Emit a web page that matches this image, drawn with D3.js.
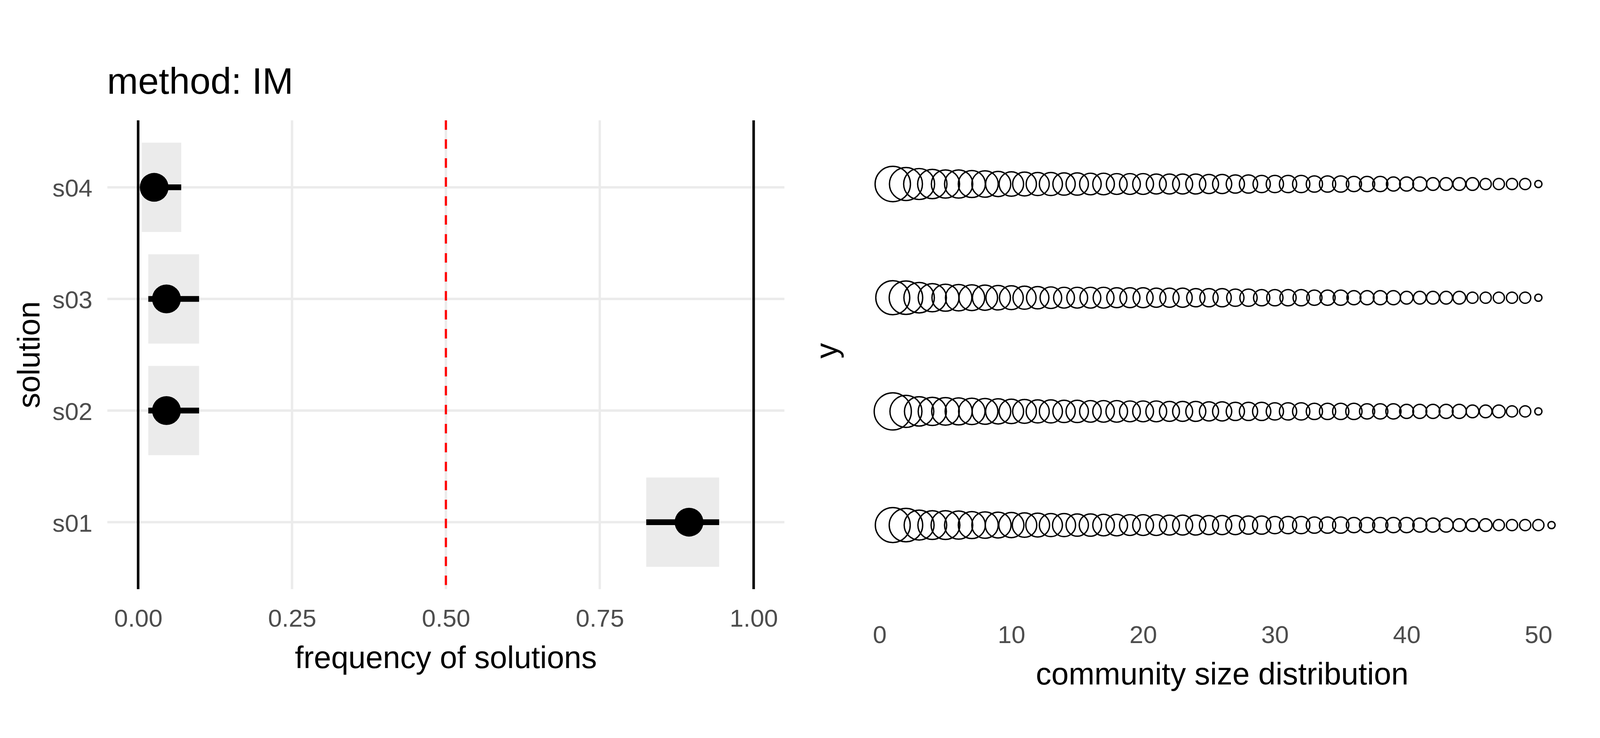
<!DOCTYPE html>
<html>
<head>
<meta charset="utf-8">
<script src="https://cdn.jsdelivr.net/npm/d3@7/dist/d3.min.js"></script>
<style>
  html, body { margin: 0; padding: 0; background: #ffffff; width: 100%; height: 100%; overflow: hidden; }
  svg { display: block; }
  text { font-family: "Liberation Sans", Arial, Helvetica, sans-serif; }
</style>
</head>
<body>
<svg id="chart"></svg>
<script>
// ---------------- data ----------------
// left panel: frequency of solutions
const solutions = ["s04", "s03", "s02", "s01"];
const freqValues = [0.026, 0.046, 0.046, 0.895];
const freqLower = [0.006, 0.0165, 0.0165, 0.8255];
const freqUpper = [0.070, 0.099, 0.099, 0.944];
const freqTicks = [0, 0.25, 0.5, 0.75, 1];
const freqTickLabels = ["0.00", "0.25", "0.50", "0.75", "1.00"];
const boundaryLines = [0, 1];
const thresholdLine = 0.5;

// right panel: community size distribution (sizes sorted per solution row)
const rowY = [4, 3, 2, 1];
const sizesRow4 = [37,32,28,25,23,23,21,20,18,17,16,15,15,14,14,13,13,12,12,12,11,11,11,11,10,10,9,9,8,8,8,8,7,7,7,6,6,6,5,5,5,4,4,4,4,3,3,3,3,1];
const sizesRow3 = [34,33,27,23,21,20,19,18,17,16,15,14,13,12,12,12,12,11,11,11,10,10,10,9,9,9,8,8,7,7,7,7,6,6,6,5,5,5,5,4,4,4,4,4,3,3,3,3,3,1];
const sizesRow2 = [41,30,25,23,22,21,20,19,18,17,16,15,15,14,14,13,13,13,12,12,12,11,11,11,10,10,9,9,9,8,8,8,7,7,7,7,6,6,6,5,5,5,5,5,4,4,4,3,3,1];
const sizesRow1 = [36,33,26,24,24,23,21,20,19,18,17,16,15,15,14,14,13,13,12,12,12,11,11,11,10,10,10,9,9,8,8,8,7,7,7,6,6,6,6,6,5,5,5,4,4,4,3,3,3,3,1];
const sizeRows = [sizesRow4, sizesRow3, sizesRow2, sizesRow1];
const rankTicks = [0, 10, 20, 30, 40, 50];

// ---------------- layout (designed on a 4724 x 1889 canvas, fitted to the window) ----------------
const BW = 4724, BH = 1889;
const W = window.innerWidth || BW, H = window.innerHeight || BH;
const sx = W / BW, sy = H / BH, k = Math.min(sx, sy);
const px = v => v * sx, py = v => v * sy, sz = v => v * k;

const FONT_TICK = sz(73.33), FONT_TITLE = sz(91.67), FONT_PLOT_TITLE = sz(110);
const GRID = "#EBEBEB", TICK_COL = "#4D4D4D";

const svg = d3.select("#chart").attr("width", W).attr("height", H);
svg.append("rect").attr("width", W).attr("height", H).attr("fill", "#ffffff");

// ===== Left panel =====
const L = { left: px(317), right: px(2316), top: py(308), bottom: py(1508) };
const x1 = d3.scaleLinear().domain([-0.05, 1.05]).range([L.left, L.right]);
const y1 = d3.scalePoint().domain(solutions).range([L.top, L.bottom]).padding(0.6);
const band = y1.step() * 0.8;

const gL = svg.append("g");

// grid lines
gL.selectAll("line.vgrid").data(freqTicks).enter().append("line")
  .attr("x1", d => x1(d)).attr("x2", d => x1(d))
  .attr("y1", L.top).attr("y2", L.bottom)
  .attr("stroke", GRID).attr("stroke-width", sz(7));
gL.selectAll("line.hgrid").data(solutions).enter().append("line")
  .attr("x1", L.left).attr("x2", L.right)
  .attr("y1", d => y1(d)).attr("y2", d => y1(d))
  .attr("stroke", GRID).attr("stroke-width", sz(7));

// interval tiles
gL.selectAll("rect.tile").data(solutions).enter().append("rect")
  .attr("x", (d, i) => x1(freqLower[i]))
  .attr("width", (d, i) => x1(freqUpper[i]) - x1(freqLower[i]))
  .attr("y", d => y1(d) - band / 2)
  .attr("height", band)
  .attr("fill", GRID);

// boundary lines at 0 and 1
gL.selectAll("line.bound").data(boundaryLines).enter().append("line")
  .attr("x1", d => x1(d)).attr("x2", d => x1(d))
  .attr("y1", L.top).attr("y2", L.bottom)
  .attr("stroke", "#000000").attr("stroke-width", sz(7.5));

// threshold dashed line
gL.append("line")
  .attr("x1", x1(thresholdLine)).attr("x2", x1(thresholdLine))
  .attr("y1", L.top).attr("y2", L.bottom)
  .attr("stroke", "#FF0000").attr("stroke-width", sz(6.5))
  .attr("stroke-dasharray", `${sz(28)},${sz(28)}`);

// error bars
gL.selectAll("line.err").data(solutions).enter().append("line")
  .attr("x1", (d, i) => x1(freqLower[i])).attr("x2", (d, i) => x1(freqUpper[i]))
  .attr("y1", d => y1(d)).attr("y2", d => y1(d))
  .attr("stroke", "#000000").attr("stroke-width", sz(17));

// points
gL.selectAll("circle.pt").data(solutions).enter().append("circle")
  .attr("cx", (d, i) => x1(freqValues[i]))
  .attr("cy", d => y1(d))
  .attr("r", sz(42.5))
  .attr("fill", "#000000");

// axes (text only, minimal theme)
const xAxis1 = d3.axisBottom(x1).tickValues(freqTicks)
  .tickFormat((d, i) => freqTickLabels[i]).tickSize(0).tickPadding(0);
const gx1 = svg.append("g").attr("transform", `translate(0,${py(1604)})`).call(xAxis1);
gx1.select(".domain").remove();
gx1.selectAll("text").attr("y", 0).attr("dy", null)
  .attr("font-size", FONT_TICK).attr("fill", TICK_COL)
  .attr("font-family", "'Liberation Sans', Arial, sans-serif");

const yAxis1 = d3.axisLeft(y1).tickSize(0).tickPadding(0);
const gy1 = svg.append("g").attr("transform", `translate(${px(273)},0)`).call(yAxis1);
gy1.select(".domain").remove();
gy1.selectAll("text").attr("x", 0).attr("dy", "0.37em")
  .attr("font-size", FONT_TICK).attr("fill", TICK_COL)
  .attr("font-family", "'Liberation Sans', Arial, sans-serif");

// titles
svg.append("text").attr("x", px(316)).attr("y", py(240))
  .attr("font-size", FONT_PLOT_TITLE).attr("fill", "#000").text("method: IM");
svg.append("text").attr("x", (L.left + L.right) / 2).attr("y", py(1710))
  .attr("text-anchor", "middle").attr("font-size", FONT_TITLE).attr("fill", "#000")
  .text("frequency of solutions");
svg.append("text")
  .attr("transform", `translate(${px(117)},${(L.top + L.bottom) / 2}) rotate(-90)`)
  .attr("text-anchor", "middle").attr("font-size", FONT_TITLE).attr("fill", "#000")
  .text("solution");

// ===== Right panel =====
const R = { left: px(2538.65), right: px(4678.15), top: py(246), bottom: py(1550) };
const x2 = d3.scaleLinear().domain([-1.5, 53.5]).range([R.left, R.right]);
const y2 = d3.scaleLinear().domain([1, 4]).range([py(1344), py(471)]);
const allSizes = sizeRows.flat();
const rScale = d3.scaleSqrt().domain([d3.min(allSizes), d3.max(allSizes)])
  .range([sz(10.5), sz(2.3 + 8.2 * Math.sqrt(d3.max(allSizes)))]);

const gR = svg.append("g");
sizeRows.forEach((row, ri) => {
  gR.selectAll(null).data(row).enter().append("circle")
    .attr("cx", (d, i) => x2(i + 1))
    .attr("cy", y2(rowY[ri]))
    .attr("r", d => rScale(d))
    .attr("fill", "none")
    .attr("stroke", "#000000")
    .attr("stroke-width", sz(4));
});

const xAxis2 = d3.axisBottom(x2).tickValues(rankTicks).tickFormat(d3.format("d"))
  .tickSize(0).tickPadding(0);
const gx2 = svg.append("g").attr("transform", `translate(0,${py(1646)})`).call(xAxis2);
gx2.select(".domain").remove();
gx2.selectAll("text").attr("y", 0).attr("dy", null)
  .attr("font-size", FONT_TICK).attr("fill", TICK_COL)
  .attr("font-family", "'Liberation Sans', Arial, sans-serif");

svg.append("text").attr("x", (R.left + R.right) / 2).attr("y", py(1752))
  .attr("text-anchor", "middle").attr("font-size", FONT_TITLE).attr("fill", "#000")
  .text("community size distribution");
svg.append("text")
  .attr("transform", `translate(${px(2472)},${py(898)}) rotate(-90)`)
  .attr("text-anchor", "middle").attr("font-size", FONT_TITLE).attr("fill", "#000")
  .text("y");
</script>
</body>
</html>
